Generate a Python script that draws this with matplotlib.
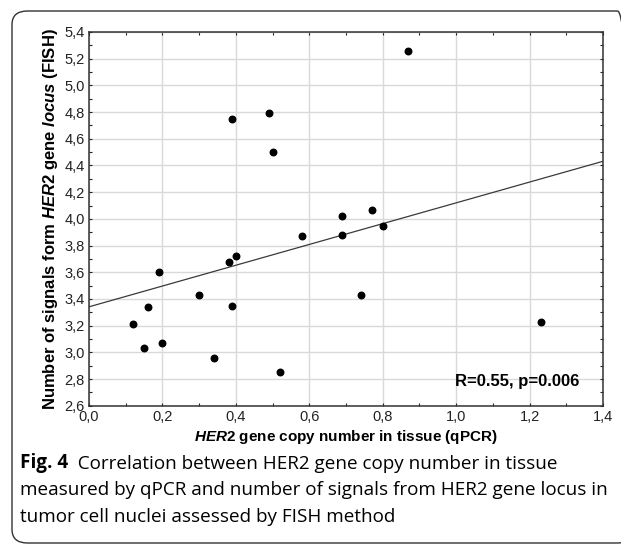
import numpy as np
import matplotlib.pyplot as plt
from matplotlib.patches import FancyBboxPatch
from matplotlib.ticker import MultipleLocator, FuncFormatter

# HER2 copy number (qPCR) vs FISH signals per nucleus
her2_qpcr = [0.87, 0.49, 0.39, 0.50, 0.77, 0.69, 0.80, 0.69, 0.58, 0.40, 0.38,
             0.19, 0.30, 0.74, 0.39, 0.16, 1.23, 0.12, 0.20, 0.15, 0.34, 0.52]
fish_signals = [5.26, 4.79, 4.75, 4.50, 4.07, 4.02, 3.95, 3.88, 3.87, 3.72, 3.68,
                3.60, 3.43, 3.43, 3.35, 3.34, 3.23, 3.21, 3.07, 3.03, 2.96, 2.85]
stat_text = 'R=0.55, p=0.006'

plt.rcParams['mathtext.fontset'] = 'custom'
plt.rcParams['mathtext.it'] = 'Liberation Sans:italic:bold'
plt.rcParams['mathtext.rm'] = 'Liberation Sans:bold'
plt.rcParams['mathtext.bf'] = 'Liberation Sans:bold'

fig = plt.figure(figsize=(6.21, 5.44), dpi=100)
ax = fig.add_axes([0.1433, 0.2542, 0.971 - 0.1433, 0.9412 - 0.2542])

x = np.array(her2_qpcr)
y = np.array(fish_signals)
slope, icept = np.polyfit(x, y, 1)
xl = np.array([0.0, 1.4])
ax.plot(xl, icept + slope * xl, color='#3a3a3a', lw=0.9, zorder=2)
ax.scatter(x, y, s=22, color='black', zorder=3)

ax.set_xlim(0, 1.4)
ax.set_ylim(2.6, 5.4)
ax.xaxis.set_major_locator(MultipleLocator(0.2))
ax.yaxis.set_major_locator(MultipleLocator(0.2))
ax.xaxis.set_minor_locator(MultipleLocator(0.1))
ax.yaxis.set_minor_locator(MultipleLocator(0.1))
fmt = FuncFormatter(lambda v, p: ('%.1f' % v).replace('.', ','))
ax.xaxis.set_major_formatter(fmt)
ax.yaxis.set_major_formatter(fmt)
ax.tick_params(which='both', direction='in', top=True, right=True,
               labelsize=10.5, colors='#222222', length=2.5, width=0.8, pad=3)
ax.tick_params(which='minor', length=2)
for t in ax.get_xticklabels() + ax.get_yticklabels():
    t.set_family('Liberation Sans')
ax.grid(True, which='major', color='#d9d9d9', lw=1)
ax.set_axisbelow(True)
for s in ax.spines.values():
    s.set_color('#333333')
    s.set_linewidth(1.1)

ax.set_xlabel(r'$\mathit{HER2}$ gene copy number in tissue (qPCR)',
              fontsize=11, fontweight='bold', family='Liberation Sans', labelpad=3)
ax.set_ylabel(r'Number of signals form $\mathit{HER2}$ gene $\mathit{locus}$ (FISH)',
              fontsize=12, fontweight='bold', family='Liberation Sans', labelpad=3)
ax.text(0.955, 0.045, stat_text, transform=ax.transAxes, ha='right', va='bottom',
        fontsize=12, fontweight='bold', family='Liberation Sans')

# rounded frame round figure + caption
frame = FancyBboxPatch((12 / 621, 1 / 544), 1.0, 532 / 544,
                       boxstyle='round,pad=0,rounding_size=0.025',
                       transform=fig.transFigure, fill=False,
                       ec='#333333', lw=1.0, clip_on=False)
fig.patches.append(frame)

cap_font = 'Open Sans'
cap_size = 13.6
t1 = fig.text(20 / 621, 1 - 468 / 544, 'Fig. 4', fontsize=cap_size,
              fontweight='bold', family=cap_font, va='baseline')
fig.canvas.draw()
ax.annotate('  Correlation between HER2 gene copy number in tissue',
            xy=(1, 0), xycoords=t1, va='bottom', ha='left',
            fontsize=cap_size, family=cap_font, annotation_clip=False)
fig.text(20 / 621, 1 - 495 / 544,
         'measured by qPCR and number of signals from HER2 gene locus in',
         fontsize=cap_size, family=cap_font, va='baseline')
fig.text(20 / 621, 1 - 522 / 544,
         'tumor cell nuclei assessed by FISH method',
         fontsize=cap_size, family=cap_font, va='baseline')

fig.savefig('out.png', dpi=100)
